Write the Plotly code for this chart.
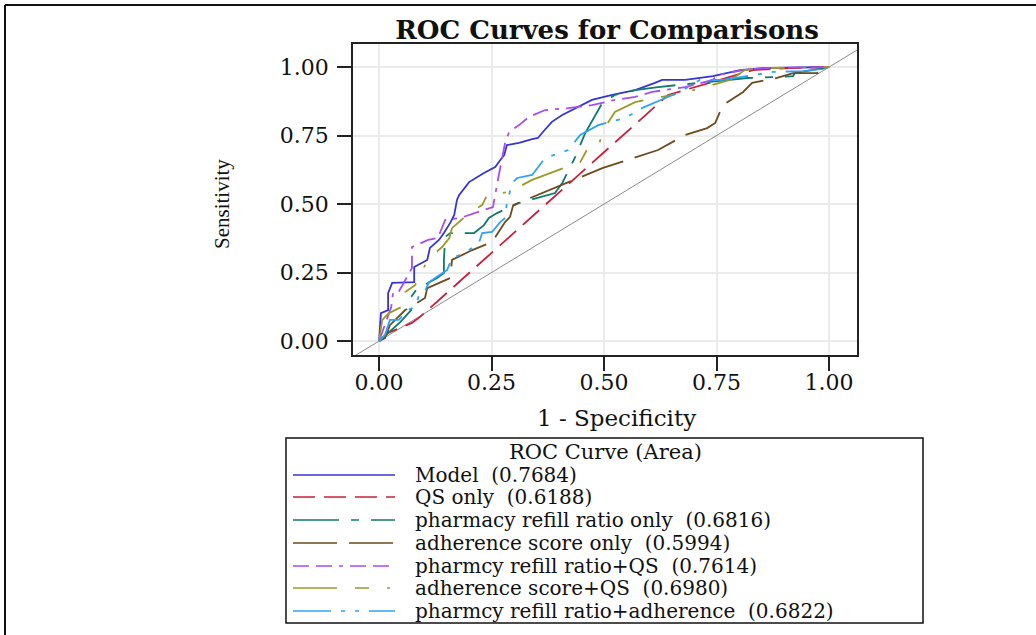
import plotly.graph_objects as go

# ---------------- data ----------------
model_x = [0, 0.004, 0.02, 0.02, 0.029, 0.078, 0.078, 0.107, 0.113, 0.133, 0.144, 0.158, 0.167, 0.173,
           0.178, 0.2, 0.233, 0.258, 0.269, 0.278, 0.284, 0.311, 0.34, 0.353, 0.364, 0.384, 0.407, 0.436,
           0.473, 0.518, 0.569, 0.613, 0.629, 0.68, 0.742, 0.802, 0.853, 1.0]
model_y = [0, 0.102, 0.113, 0.175, 0.212, 0.215, 0.27, 0.296, 0.34, 0.369, 0.394, 0.431, 0.46, 0.515,
           0.533, 0.58, 0.613, 0.635, 0.66, 0.679, 0.715, 0.723, 0.737, 0.741, 0.763, 0.8, 0.825, 0.85,
           0.88, 0.898, 0.916, 0.942, 0.953, 0.953, 0.967, 0.989, 0.996, 1.0]

qs_x = [0, 0.02, 0.073, 0.091, 0.642, 0.736, 0.831, 0.913, 1.0]
qs_y = [0, 0.03, 0.066, 0.088, 0.898, 0.942, 0.989, 0.996, 1.0]

refill_x = [0, 0.047, 0.071, 0.071, 0.084, 0.129, 0.144, 0.144, 0.147, 0.158, 0.211, 0.233, 0.244, 0.262,
            0.311, 0.391, 0.407, 0.436, 0.458, 0.48, 0.496, 0.524, 0.569, 0.62, 0.707, 0.818, 0.891, 0.92,
            0.924, 0.958, 1.0]
refill_y = [0, 0.069, 0.113, 0.161, 0.19, 0.23, 0.248, 0.296, 0.38, 0.394, 0.394, 0.423, 0.449, 0.467,
            0.504, 0.54, 0.577, 0.672, 0.759, 0.825, 0.869, 0.898, 0.916, 0.927, 0.942, 0.96, 0.964, 0.967,
            0.978, 0.989, 1.0]

adh_x = [0, 0.013, 0.024, 0.058, 0.102, 0.107, 0.158, 0.162, 0.207, 0.251, 0.28, 0.291, 0.298, 0.38,
         0.496, 0.62, 0.68, 0.729, 0.747, 0.764, 0.787, 0.809, 0.829, 0.884, 0.92, 0.973, 0.996, 1.0]
adh_y = [0, 0.011, 0.058, 0.113, 0.157, 0.193, 0.23, 0.296, 0.332, 0.361, 0.434, 0.453, 0.496, 0.551,
         0.631, 0.697, 0.752, 0.777, 0.796, 0.861, 0.887, 0.909, 0.942, 0.96, 0.978, 0.978, 0.996, 1.0]

refqs_x = [0, 0.007, 0.027, 0.031, 0.042, 0.073, 0.073, 0.109, 0.131, 0.136, 0.147, 0.18, 0.218, 0.253,
           0.264, 0.273, 0.28, 0.289, 0.311, 0.333, 0.369, 0.42, 0.473, 0.524, 0.569, 0.607, 0.68, 0.742,
           0.751, 0.809, 0.853, 1.0]
refqs_y = [0, 0.033, 0.124, 0.175, 0.175, 0.266, 0.343, 0.369, 0.376, 0.398, 0.442, 0.449, 0.471, 0.489,
           0.588, 0.661, 0.723, 0.763, 0.788, 0.818, 0.843, 0.85, 0.861, 0.88, 0.891, 0.909, 0.927, 0.953,
           0.971, 0.989, 0.996, 1.0]

adhqs_x = [0, 0.007, 0.022, 0.058, 0.058, 0.08, 0.091, 0.107, 0.14, 0.156, 0.162, 0.2, 0.229, 0.24,
           0.289, 0.34, 0.398, 0.447, 0.464, 0.487, 0.498, 0.524, 0.569, 0.651, 0.684, 0.78, 0.813, 0.853, 1.0]
adhqs_y = [0, 0.077, 0.102, 0.131, 0.179, 0.204, 0.234, 0.296, 0.343, 0.376, 0.412, 0.467, 0.496, 0.533,
           0.544, 0.588, 0.624, 0.653, 0.704, 0.708, 0.77, 0.836, 0.872, 0.898, 0.909, 0.953, 0.989, 0.996, 1.0]

refadh_x = [0, 0.013, 0.024, 0.044, 0.062, 0.08, 0.089, 0.1, 0.111, 0.136, 0.151, 0.162, 0.18, 0.2, 0.222,
            0.229, 0.251, 0.269, 0.28, 0.284, 0.296, 0.307, 0.34, 0.369, 0.42, 0.447, 0.487, 0.547, 0.584,
            0.636, 0.664, 0.713, 0.764, 0.876, 0.942, 0.987, 1.0]
refadh_y = [0, 0.022, 0.077, 0.077, 0.113, 0.124, 0.168, 0.175, 0.215, 0.241, 0.259, 0.303, 0.314, 0.332,
            0.358, 0.394, 0.398, 0.434, 0.449, 0.504, 0.577, 0.595, 0.606, 0.668, 0.697, 0.752, 0.788, 0.814,
            0.85, 0.887, 0.905, 0.953, 0.953, 0.982, 0.985, 0.993, 1.0]

curve_names = ["Model", "QS only", "pharmacy refill ratio only", "adherence score only",
               "pharmcy refill ratio+QS", "adherence score+QS", "pharmcy refill ratio+adherence"]
curve_areas = [0.7684, 0.6188, 0.6816, 0.5994, 0.7614, 0.6980, 0.6822]

tick_vals = [0.0, 0.25, 0.5, 0.75, 1.0]
tick_text = ["0.00", "0.25", "0.50", "0.75", "1.00"]

# ---------------- styling ----------------
curves_x = [model_x, qs_x, refill_x, adh_x, refqs_x, adhqs_x, refadh_x]
curves_y = [model_y, qs_y, refill_y, adh_y, refqs_y, adhqs_y, refadh_y]
colors = ["#3535d4", "#c8203c", "#0f7a6e", "#6e4a1c", "#a64df0", "#9a9a28", "#2ea2f5"]
dashes = ["solid", "22px,9px", "46px,12px,8px,12px", "44px,12px",
          "16px,7px,16px,7px,4px,7px", "44px,18px,14px,18px,3px,18px", "38px,10px,4px,10px,4px,10px"]

W, H = 1036, 635
PL, PR, PT, PB = 353, 857, 44, 355  # plot area in pixels


def px(xp):
    return (xp - PL) / (PR - PL)


def py(yp):
    return (PB - yp) / (PB - PT)


fig = go.Figure()

# diagonal reference line
fig.add_trace(go.Scatter(x=[-0.06, 1.065], y=[-0.06, 1.065], mode="lines",
                         line=dict(color="#8a8a8a", width=1), showlegend=False, hoverinfo="skip"))

for cx, cy, col, dsh, nm in zip(curves_x, curves_y, colors, dashes, curve_names):
    fig.add_trace(go.Scatter(x=cx, y=cy, mode="lines", name=nm,
                             line=dict(color=col, width=1.8, dash=dsh), showlegend=False))

axis_common = dict(tickvals=tick_vals, ticktext=tick_text,
                   showgrid=True, gridcolor="#ebebeb", gridwidth=2, zeroline=False,
                   showline=True, linecolor="#222", linewidth=1.5, mirror=True,
                   ticks="outside", ticklen=14, tickwidth=1.5, tickcolor="#222",
                   tickfont=dict(family="DejaVu Serif", size=22, color="#111"))
fig.update_xaxes(range=[-0.058, 1.062], ticklabelstandoff=-7, **axis_common)
fig.update_yaxes(range=[-0.051, 1.084], ticklabelstandoff=4, **axis_common)

shapes = []
annotations = []

# outer page border (left and top)
shapes.append(dict(type="line", xref="paper", yref="paper", x0=px(5), x1=px(5), y0=py(5), y1=py(640),
                   line=dict(color="#111", width=2)))
shapes.append(dict(type="line", xref="paper", yref="paper", x0=px(5), x1=px(1040), y0=py(5), y1=py(5),
                   line=dict(color="#111", width=2)))

# axis titles
annotations.append(dict(text="Sensitivity", xref="paper", yref="paper", x=px(222), y=py(204),
                        textangle=-90, showarrow=False, xanchor="center", yanchor="middle",
                        font=dict(family="Liberation Serif", size=21, color="#111")))
annotations.append(dict(text="1 - Specificity", xref="paper", yref="paper", x=px(616), y=py(418),
                        showarrow=False, xanchor="center", yanchor="middle",
                        font=dict(family="DejaVu Serif", size=23, color="#111")))

# custom legend box
shapes.append(dict(type="rect", xref="paper", yref="paper", x0=px(286), x1=px(923), y0=py(438), y1=py(623),
                   line=dict(color="#111", width=1.5), fillcolor="rgba(0,0,0,0)"))
annotations.append(dict(text="ROC Curve (Area)", xref="paper", yref="paper", x=px(605), y=py(452),
                        showarrow=False, xanchor="center", yanchor="middle",
                        font=dict(family="DejaVu Serif", size=21, color="#111")))
row_y = [475, 497, 520, 543, 566, 588, 611]
for nm, area, col, dsh, ry in zip(curve_names, curve_areas, colors, dashes, row_y):
    shapes.append(dict(type="line", xref="paper", yref="paper", x0=px(293), x1=px(395), y0=py(ry), y1=py(ry),
                       line=dict(color=col, width=1.5, dash=dsh)))
    annotations.append(dict(text=f"{nm}&nbsp;&nbsp;({area:.4f})", xref="paper", yref="paper", x=px(413),
                            y=py(ry), showarrow=False, xanchor="left", yanchor="middle",
                            font=dict(family="DejaVu Serif", size=20, color="#111")))

fig.update_layout(
    width=W, height=H,
    margin=dict(l=PL, r=W - PR, t=PT, b=H - PB),
    paper_bgcolor="white", plot_bgcolor="white",
    title=dict(text="<b>ROC Curves for Comparisons</b>", x=px(607), xref="paper", xanchor="center",
               y=1 - 30 / H, yref="container", yanchor="middle",
               font=dict(family="DejaVu Serif", size=26, color="#111")),
    shapes=shapes, annotations=annotations, showlegend=False,
)

fig.write_html("out.html")
